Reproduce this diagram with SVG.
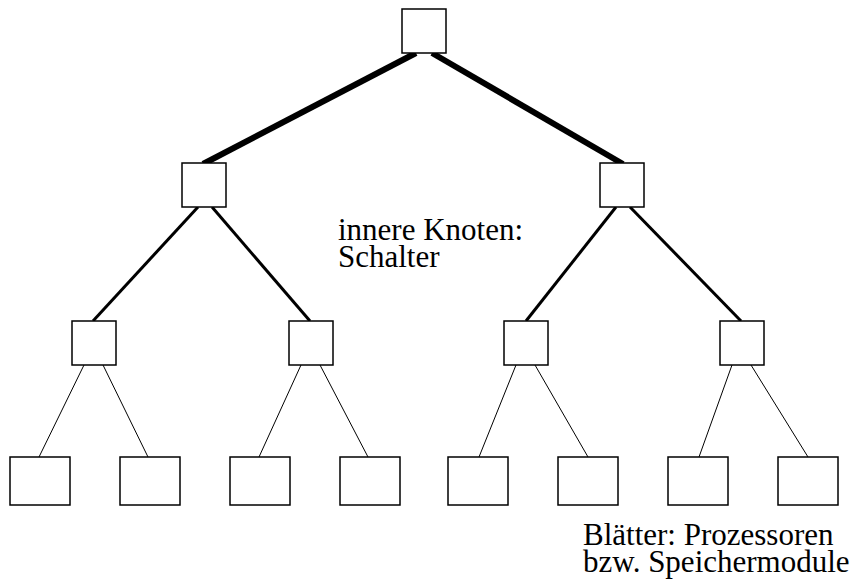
<svg xmlns="http://www.w3.org/2000/svg" width="861" height="583" viewBox="0 0 861 583">
<style>
.n{fill:#fff;stroke:#000;stroke-width:1.5}
.t{font-family:"Liberation Serif",serif;font-size:31px;fill:#000}
.e0{stroke:#000;stroke-width:6;fill:none}
.e1{stroke:#000;stroke-width:3;fill:none}
.e2{stroke:#000;stroke-width:1;fill:none}
</style>
<rect width="861" height="583" fill="#fff"/>
<g id="connectors">
<line class="e0" x1="416" y1="53" x2="203" y2="164"/>
<line class="e0" x1="432" y1="53" x2="623" y2="164"/>
<line class="e1" x1="198" y1="207" x2="93" y2="321"/>
<line class="e1" x1="212" y1="207" x2="310" y2="321"/>
<line class="e1" x1="616" y1="207" x2="526" y2="321"/>
<line class="e1" x1="630" y1="207" x2="741" y2="321"/>
<line class="e2" x1="84" y1="365" x2="39" y2="457"/>
<line class="e2" x1="103" y1="365" x2="148" y2="457"/>
<line class="e2" x1="301" y1="365" x2="259" y2="457"/>
<line class="e2" x1="320" y1="365" x2="368" y2="457"/>
<line class="e2" x1="516" y1="365" x2="479" y2="457"/>
<line class="e2" x1="535" y1="365" x2="588" y2="457"/>
<line class="e2" x1="732" y1="365" x2="699" y2="457"/>
<line class="e2" x1="751" y1="365" x2="808" y2="457"/>
</g>
<g id="root"><rect class="n" x="402" y="9" width="44" height="44"/></g>
<g id="s1"><rect class="n" x="182" y="163" width="44" height="44"/></g>
<g id="s2"><rect class="n" x="600" y="163" width="44" height="44"/></g>
<g id="s11"><rect class="n" x="72" y="321" width="44" height="44"/></g>
<g id="s12"><rect class="n" x="289" y="321" width="44" height="44"/></g>
<g id="s21"><rect class="n" x="504" y="321" width="44" height="44"/></g>
<g id="s22"><rect class="n" x="720" y="321" width="44" height="44"/></g>
<g id="l1"><rect class="n" x="10" y="457" width="60" height="48"/></g>
<g id="l2"><rect class="n" x="120" y="457" width="60" height="48"/></g>
<g id="l3"><rect class="n" x="230" y="457" width="60" height="48"/></g>
<g id="l4"><rect class="n" x="340" y="457" width="60" height="48"/></g>
<g id="l5"><rect class="n" x="448" y="457" width="60" height="48"/></g>
<g id="l6"><rect class="n" x="558" y="457" width="60" height="48"/></g>
<g id="l7"><rect class="n" x="668" y="457" width="60" height="48"/></g>
<g id="l8"><rect class="n" x="778" y="457" width="60" height="48"/></g>
<g id="label-inner">
<text class="t" x="338" y="240">innere Knoten:</text>
<text class="t" x="338" y="267">Schalter</text>
</g>
<g id="label-leaves">
<text class="t" x="583" y="545">Blätter: Prozessoren</text>
<text class="t" x="583" y="572">bzw. Speichermodule</text>
</g>
</svg>
